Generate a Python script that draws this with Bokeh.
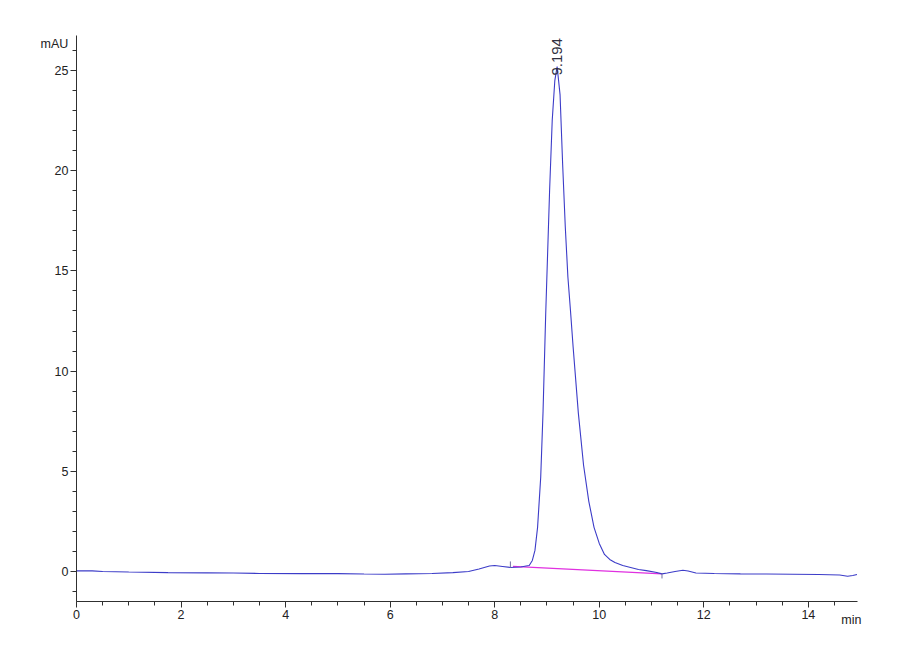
from bokeh.plotting import figure
from bokeh.models import FixedTicker, Range1d, Label, Title
from bokeh.embed import file_html
from bokeh.resources import INLINE

# Chromatogram signal (min, mAU)
time_min = [0.0, 0.3, 0.5, 1.0, 1.75, 2.5, 3.0, 3.5, 4.3, 5.0, 5.5, 5.9, 6.3, 6.8,
            7.2, 7.5, 7.7, 7.9, 8.0, 8.15, 8.3, 8.5, 8.6, 8.66, 8.72, 8.77, 8.82,
            8.88, 8.925, 8.975, 9.05, 9.1, 9.15, 9.194, 9.25, 9.3, 9.35, 9.4, 9.45,
            9.5, 9.6, 9.7, 9.8, 9.9, 10.0, 10.1, 10.2, 10.3, 10.45, 10.6, 10.75,
            10.9, 11.1, 11.2, 11.3, 11.45, 11.6, 11.7, 11.85, 12.2, 12.7, 13.2,
            13.7, 14.2, 14.6, 14.75, 14.85, 14.93]
signal_mau = [0.03, 0.03, 0.0, -0.03, -0.06, -0.07, -0.08, -0.1, -0.11, -0.11, -0.13,
              -0.14, -0.12, -0.1, -0.06, 0.0, 0.12, 0.27, 0.3, 0.25, 0.2, 0.22, 0.27,
              0.3, 0.55, 1.05, 2.2, 4.7, 8.0, 12.8, 19.0, 22.5, 24.5, 25.2, 23.8,
              20.3, 17.2, 14.7, 13.0, 11.2, 7.9, 5.3, 3.5, 2.2, 1.4, 0.85, 0.6, 0.45,
              0.3, 0.2, 0.1, 0.04, -0.05, -0.12, -0.08, 0.0, 0.06, 0.02, -0.08, -0.1,
              -0.12, -0.13, -0.14, -0.15, -0.18, -0.24, -0.2, -0.15]

# Integration baseline (magenta) and event markers
baseline_t = [8.35, 11.2]
baseline_v = [0.25, -0.12]
event_t = [8.3, 11.2]
event_lo = [0.18, -0.35]
event_hi = [0.5, -0.1]
peak_time = 9.194
peak_label = "9.194"

x_ticks = [0, 2, 4, 6, 8, 10, 12, 14]
x_minor = [i * 0.5 for i in range(30)]
y_ticks = [0, 5, 10, 15, 20, 25]
y_minor = list(range(-1, 27))
y_unit = "mAU"
x_unit = "min"

font = "Liberation Sans"
txt = "#222222"

p = figure(width=884, height=644, output_backend="svg", toolbar_location=None,
           x_range=Range1d(0, 14.94), y_range=Range1d(-1.5, 26.75),
           min_border_left=76, min_border_right=27, min_border_top=35,
           min_border_bottom=43)
p.outline_line_color = None
p.xgrid.visible = False
p.ygrid.visible = False

p.line(baseline_t, baseline_v, line_color="#e030e0", line_width=1.2)
p.line(time_min, signal_mau, line_color="#3c3cc8", line_width=1.1)
p.segment(x0=event_t, y0=event_lo, x1=event_t, y1=event_hi,
          line_color="#7070a0", line_width=1)

for ax in (p.xaxis[0], p.yaxis[0]):
    ax.axis_line_color = "#303030"
    ax.major_tick_line_color = "#303030"
    ax.minor_tick_line_color = "#303030"
    ax.major_tick_out = 6
    ax.major_tick_in = 0
    ax.minor_tick_out = 4
    ax.minor_tick_in = 0
    ax.major_label_text_font = font
    ax.major_label_text_font_size = "12.5px"
    ax.major_label_text_color = txt
    ax.major_label_standoff = 2

p.xaxis.ticker = FixedTicker(ticks=x_ticks, minor_ticks=x_minor)
p.yaxis.ticker = FixedTicker(ticks=y_ticks, minor_ticks=y_minor)

p.add_layout(Title(text=y_unit, align="left", offset=-36, standoff=-30,
                   vertical_align="bottom", text_font=font, text_font_size="12.5px",
                   text_font_style="normal", text_color=txt), "above")
p.add_layout(Title(text=x_unit, align="right", offset=-4, standoff=-18,
                   vertical_align="top", text_font=font, text_font_size="12.5px",
                   text_font_style="normal", text_color=txt), "below")

p.add_layout(Label(x=peak_time, y=24.75, text=peak_label, angle=1.5708,
                   text_align="left", text_baseline="middle", text_font=font,
                   text_font_size="15px", text_color="#303040"))

open("out.html", "w").write(file_html(p, INLINE))
